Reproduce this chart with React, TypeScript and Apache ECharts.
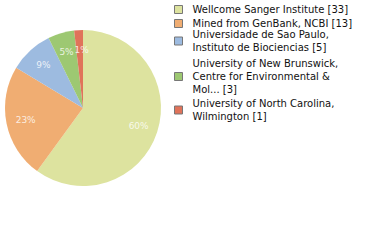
import React, { useEffect, useRef } from "react";
import * as echarts from "echarts";

const names = [
  "Wellcome Sanger Institute",
  "Mined from GenBank, NCBI",
  "Universidade de Sao Paulo, Instituto de Biociencias",
  "University of New Brunswick, Centre for Environmental & Mol...",
  "University of North Carolina, Wilmington",
];
const legendLabels = [
  "Wellcome Sanger Institute [33]",
  "Mined from GenBank, NCBI [13]",
  "Universidade de Sao Paulo,\nInstituto de Biociencias [5]",
  "University of New Brunswick,\nCentre for Environmental &\nMol... [3]",
  "University of North Carolina,\nWilmington [1]",
];
const values = [33, 13, 5, 3, 1];
const colors = ["#dde39f", "#f0ad72", "#9dbbe0", "#9dc872", "#e0735a"];

// layout (legend row tops, px)
const legendTops = [3, 17, 28, 57, 97];

export default function App() {
  const ref = useRef<HTMLDivElement>(null);
  useEffect(() => {
    if (!ref.current) return;
    const chart = echarts.init(ref.current, null, { renderer: "svg" });
    const total = values.reduce((a, b) => a + b, 0);
    const data = names.map((n, i) => ({
      name: n,
      value: values[i],
      itemStyle: { color: colors[i] },
    }));
    // label points: middle of each slice along the angle axis
    let acc = 0;
    const labelPoints = values.map((v, i) => {
      const mid = acc + v / 2;
      acc += v;
      const pt: any = { value: [58.5, mid], pct: Math.floor((v / total) * 100) };
      if (i === values.length - 1) pt.label = { offset: [2, 0] };
      return pt;
    });
    const font = "DejaVu Sans";
    const cx = 83,
      cy = 108,
      R = 78;
    chart.setOption({
      animation: false,
      legend: names.map((n, i) => ({
        orient: "vertical",
        left: 174,
        top: legendTops[i],
        padding: 0,
        itemWidth: 8,
        itemHeight: 8,
        icon: "rect",
        selectedMode: false,
        itemStyle: { borderColor: "#777", borderWidth: 1 },
        formatter: (name: string) => legendLabels[names.indexOf(name)],
        textStyle: {
          fontFamily: font,
          fontSize: 10,
          color: "#111",
          lineHeight: 13,
          padding: [0, 0, 0, 5],
        },
        data: [n],
      })),
      polar: { center: [cx, cy], radius: R },
      angleAxis: {
        type: "value",
        min: 0,
        max: total,
        startAngle: 90,
        clockwise: true,
        show: false,
      },
      radiusAxis: { type: "value", min: 0, max: R, show: false },
      series: [
        {
          type: "pie",
          center: [cx, cy],
          radius: [0, R],
          startAngle: 90,
          clockwise: true,
          silent: true,
          label: { show: false },
          labelLine: { show: false },
          data,
        },
        {
          type: "scatter",
          coordinateSystem: "polar",
          symbolSize: 0,
          silent: true,
          z: 10,
          label: {
            show: true,
            position: "inside",
            color: "#fff",
            fontFamily: font,
            fontSize: 9,
            formatter: (p: any) => p.data.pct + "%",
          },
          data: labelPoints,
        },
      ],
    });
    return () => chart.dispose();
  }, []);
  return (
    <div
      ref={ref}
      style={{ position: "absolute", left: 0, top: 0, width: 380, height: 240 }}
    />
  );
}
